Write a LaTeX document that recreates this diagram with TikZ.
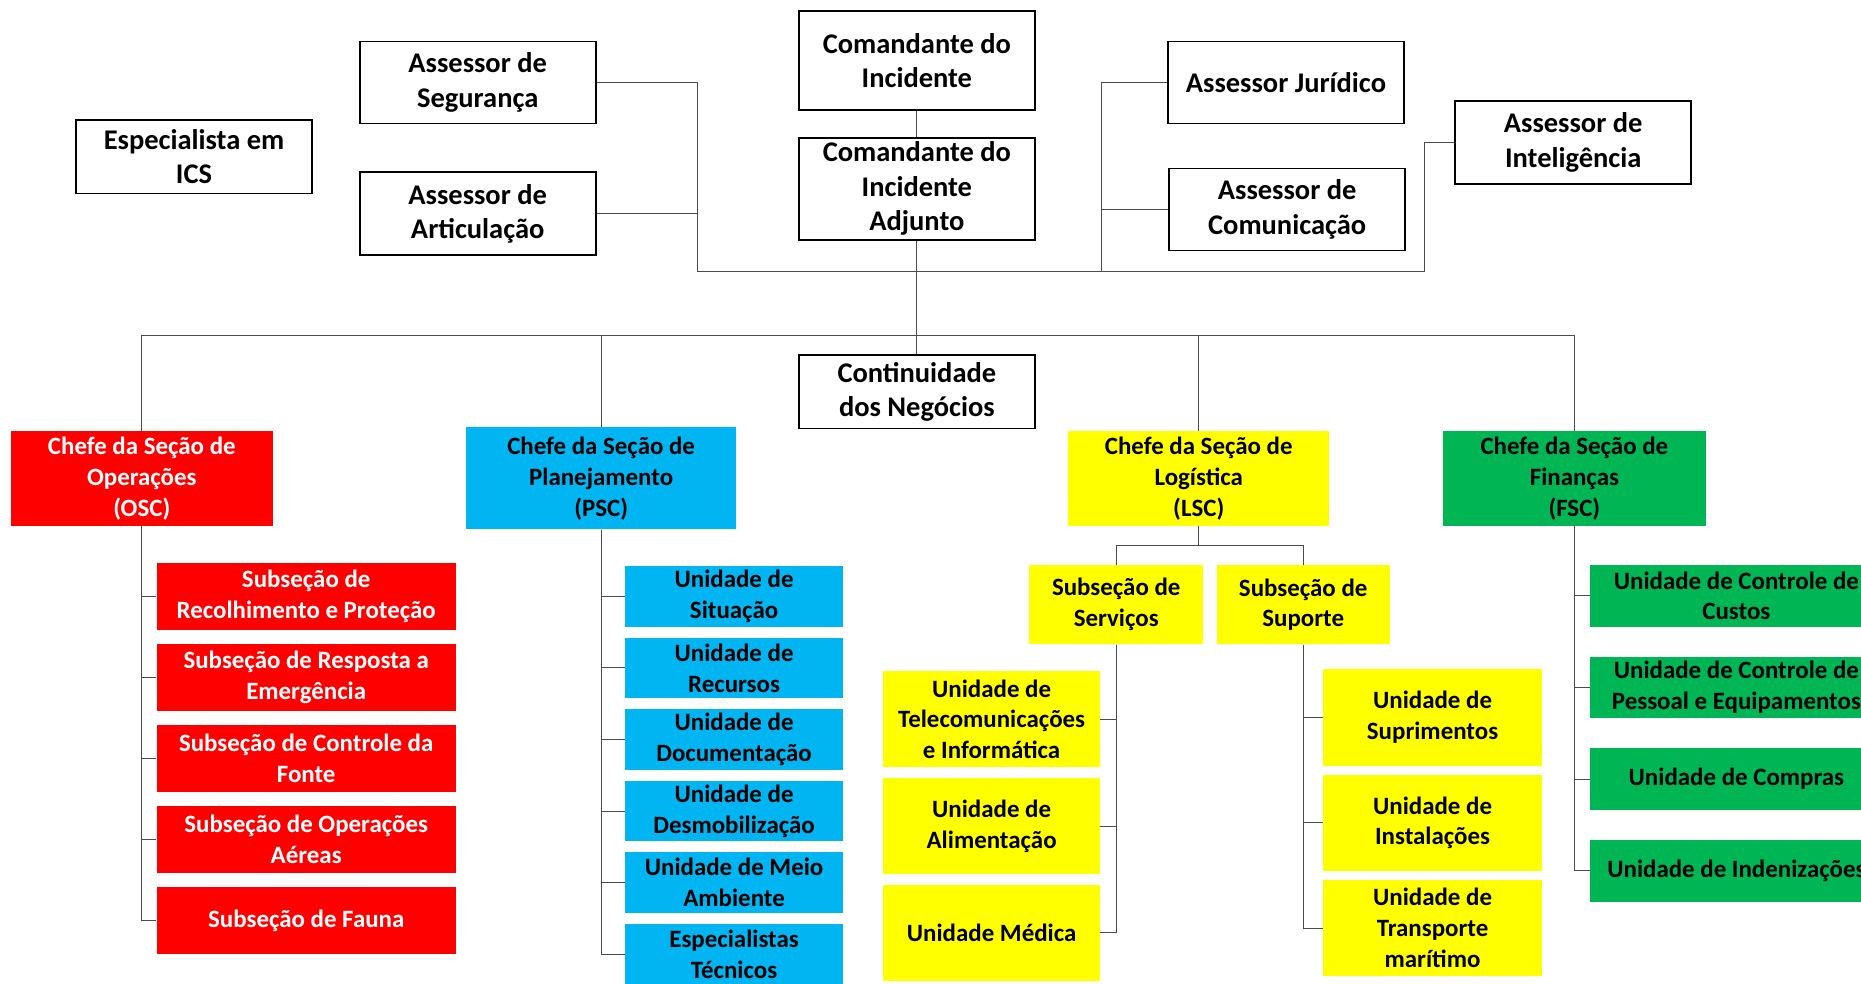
\documentclass[tikz,border=0pt]{standalone}
\usepackage{fontspec}
\setmainfont{Carlito}
\definecolor{vermelho}{rgb}{1,0,0}
\definecolor{azul}{rgb}{0,0.71,0.95}
\definecolor{amarelo}{rgb}{1,1,0}
\definecolor{verde}{rgb}{0,0.71,0.33}
\tikzset{
	caixa/.style={draw=black, line width=1.5pt, fill=white, align=center, inner sep=0pt, minimum width=199, font=\fontsize{24}{29}\selectfont\bfseries},
	secao/.style={fill=#1, align=center, inner sep=0pt, font=\fontsize{21}{26}\selectfont\bfseries},
	ligacao/.style={draw=black!70, line width=0.8pt},
}

\begin{document}
\begin{tikzpicture}[x=1pt, y=-1pt]
			\path[use as bounding box, fill=white] (0,0) rectangle (1568,829);
			% comando e assessores
			\node[caixa, minimum height=62] (esp) at (163.5,132) {Especialista em\\ICS};
			\node[caixa, minimum height=69] (seg) at (402.5,69.5) {Assessor de\\Segurança};
			\node[caixa, minimum height=70] (art) at (402.5,180) {Assessor de\\Articulação};
			\node[caixa, minimum height=84] (cmd) at (772.5,51) {Comandante do\\Incidente};
			\node[caixa, minimum height=86] (adj) at (772.5,159) {Comandante do\\Incidente\\Adjunto};
			\node[caixa, minimum height=69] (jur) at (1083.5,69.5) {Assessor Jurídico};
			\node[caixa, minimum height=69] (com) at (1084.5,176.5) {Assessor de\\Comunicação};
			\node[caixa, minimum height=70] (intel) at (1325.5,120) {Assessor de\\Inteligência};
			\node[caixa, minimum height=62] (cont) at (772.5,330) {Continuidade\\dos Negócios};
			\coordinate (lj) at (588,229);
			\coordinate (rj) at (928,229);
			\coordinate (ri) at (1200,229);
			\coordinate (bus) at (772.5,283);
			% chefes de secao
			\node[secao=vermelho, text=white, minimum width=221, minimum height=80] (osc) at (119.5,403) {Chefe da Seção de\\Operações\\(OSC)};
			\node[secao=azul, minimum width=227, minimum height=86] (psc) at (506.5,403) {Chefe da Seção de\\Planejamento\\(PSC)};
			\node[secao=amarelo, minimum width=220, minimum height=80] (lsc) at (1010,403) {Chefe da Seção de\\Logística\\(LSC)};
			\node[secao=verde, minimum width=221, minimum height=80] (fsc) at (1326.5,403) {Chefe da Seção de\\Finanças\\(FSC)};
			% operacoes
			\foreach \t [count=\i] in {{Subseção de\\Recolhimento e Proteção}, {Subseção de Resposta a\\Emergência}, {Subseção de Controle da\\Fonte}, {Subseção de Operações\\Aéreas}, {Subseção de Fauna}}
				\node[secao=vermelho, text=white, minimum width=252, minimum height=57] (o\i) at (258,{502.5+68.25*(\i-1)}) {\t};
			% planejamento
			\foreach \t [count=\i] in {{Unidade de\\Situação}, {Unidade de\\Recursos}, {Unidade de\\Documentação}, {Unidade de\\Desmobilização}, {Unidade de Meio\\Ambiente}, {Especialistas\\Técnicos}}
				\node[secao=azul, minimum width=183, minimum height=51] (p\i) at (618.5,{502.5+60.3*(\i-1)}) {\t};
			% logistica
			\node[secao=amarelo, minimum width=147, minimum height=67] (serv) at (940.5,509.5) {Subseção de\\Serviços};
			\node[secao=amarelo, minimum width=146, minimum height=67] (sup) at (1098,509.5) {Subseção de\\Suporte};
			\coordinate (lfork) at (1010,460);
			\foreach \t [count=\i] in {{Unidade de\\Telecomunicações\\e Informática}, {Unidade de\\Alimentação}, {Unidade Médica}}
				\node[secao=amarelo, minimum width=183, minimum height=81] (s\i) at (835.5,{606+90*(\i-1)}) {\t};
			\foreach \t [count=\i] in {{Unidade de\\Suprimentos}, {Unidade de\\Instalações}, {Unidade de\\Transporte\\marítimo}}
				\node[secao=amarelo, minimum width=184, minimum height=81] (u\i) at (1207,{604.5+88.75*(\i-1)}) {\t};
			% financas
			\foreach \t [count=\i] in {{Unidade de Controle de\\Custos}, {Unidade de Controle de\\Pessoal e Equipamentos}, {Unidade de Compras}, {Unidade de Indenizações}}
				\node[secao=verde, minimum width=246, minimum height=52] (f\i) at (1463,{502+77.2*(\i-1)}) {\t};
			% ligacoes
			\draw[ligacao] (cmd.south) -- (adj.north);
			\draw[ligacao] (adj.south) -- (cont.north);
			\draw[ligacao] (seg.east) -| (lj) -- (ri) |- (intel.west);
			\draw[ligacao] (art.east) -| (lj);
			\draw[ligacao] (jur.west) -| (rj);
			\draw[ligacao] (com.west) -| (rj);
			\draw[ligacao] (osc.north) |- (bus) -| (fsc.north);
			\draw[ligacao] (psc.north) -- (psc.north |- bus);
			\draw[ligacao] (lsc.north) -- (lsc.north |- bus);
			\foreach \i in {1,...,5} \draw[ligacao] (osc.south) |- (o\i.west);
			\foreach \i in {1,...,6} \draw[ligacao] (psc.south) |- (p\i.west);
			\draw[ligacao] (lsc.south) -- (lfork);
			\draw[ligacao] (serv.north) |- (lfork) -| (sup.north);
			\foreach \i in {1,...,3} \draw[ligacao] (serv.south) |- (s\i.east);
			\foreach \i in {1,...,3} \draw[ligacao] (sup.south) |- (u\i.west);
			\foreach \i in {1,...,4} \draw[ligacao] (fsc.south) |- (f\i.west);
			%\draw[ligacao] (esp.east) -- (seg.west);
		\end{tikzpicture}
\end{document}
